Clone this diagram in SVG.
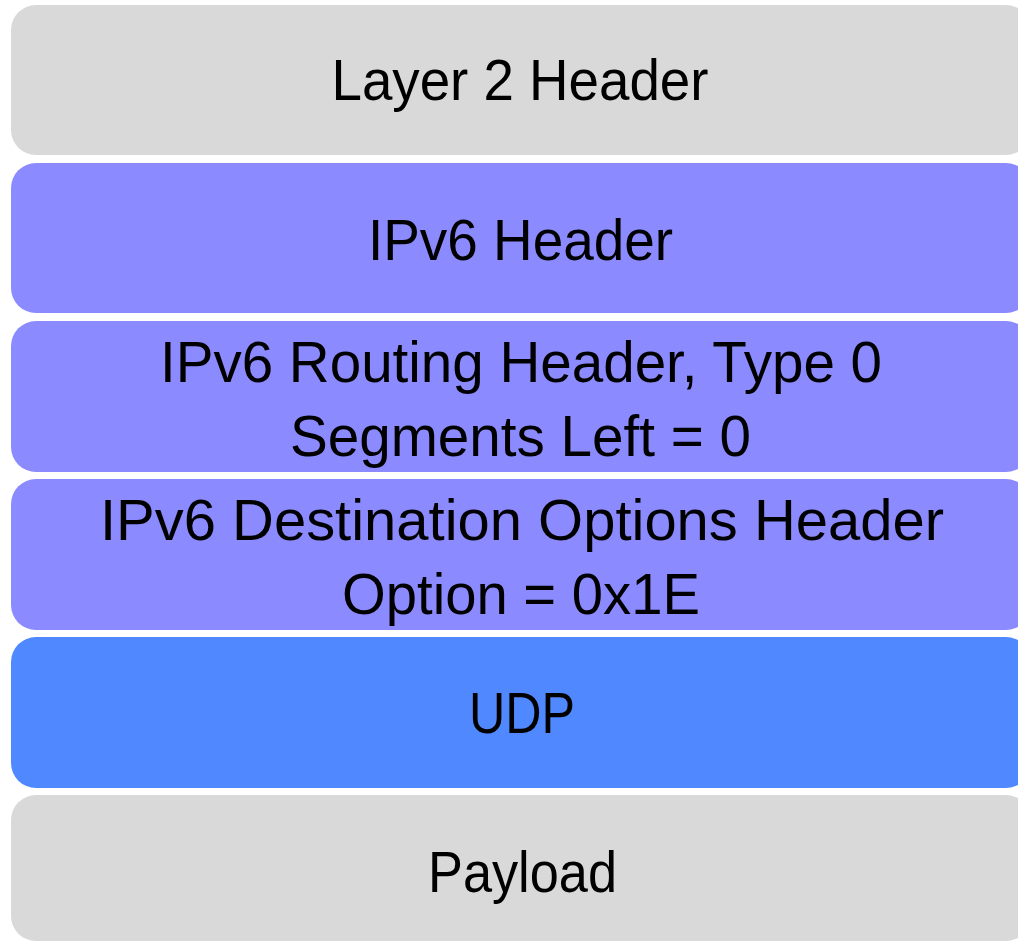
<svg xmlns="http://www.w3.org/2000/svg" width="1018" height="943" viewBox="0 0 1018 943">
<style>
.box{stroke:none}
.gray{fill:#D9D9D9}
.purple{fill:#8B8BFF}
.blue{fill:#5088FF}
text{font-family:"Liberation Sans",Arial,sans-serif;font-size:57px;fill:#000;text-anchor:middle}
</style>
<rect width="1018" height="943" fill="#FFFFFF"/>
<g id="layer2">
<rect class="box gray" x="11" y="5" width="1020" height="150" rx="25"/>
<text x="520" y="100" textLength="377" lengthAdjust="spacingAndGlyphs">Layer 2 Header</text>
</g>
<g id="ipv6">
<rect class="box purple" x="11" y="163" width="1020" height="150" rx="25"/>
<text x="520.5" y="260" textLength="305" lengthAdjust="spacingAndGlyphs">IPv6 Header</text>
</g>
<g id="routing">
<rect class="box purple" x="11" y="321" width="1020" height="151" rx="25"/>
<text x="521" y="382" textLength="722" lengthAdjust="spacingAndGlyphs">IPv6 Routing Header, Type 0</text>
<text x="520.5" y="456" textLength="461" lengthAdjust="spacingAndGlyphs">Segments Left = 0</text>
</g>
<g id="destopts">
<rect class="box purple" x="11" y="479" width="1020" height="151" rx="25"/>
<text x="522" y="540" textLength="844" lengthAdjust="spacingAndGlyphs">IPv6 Destination Options Header</text>
<text x="521" y="614" textLength="358" lengthAdjust="spacingAndGlyphs">Option = 0x1E</text>
</g>
<g id="udp">
<rect class="box blue" x="11" y="637" width="1020" height="151" rx="25"/>
<text x="522" y="733" textLength="106" lengthAdjust="spacingAndGlyphs">UDP</text>
</g>
<g id="payload">
<rect class="box gray" x="11" y="795" width="1020" height="146" rx="25"/>
<text x="522.5" y="892" textLength="189" lengthAdjust="spacingAndGlyphs">Payload</text>
</g>
<g id="connectors"></g>
</svg>
